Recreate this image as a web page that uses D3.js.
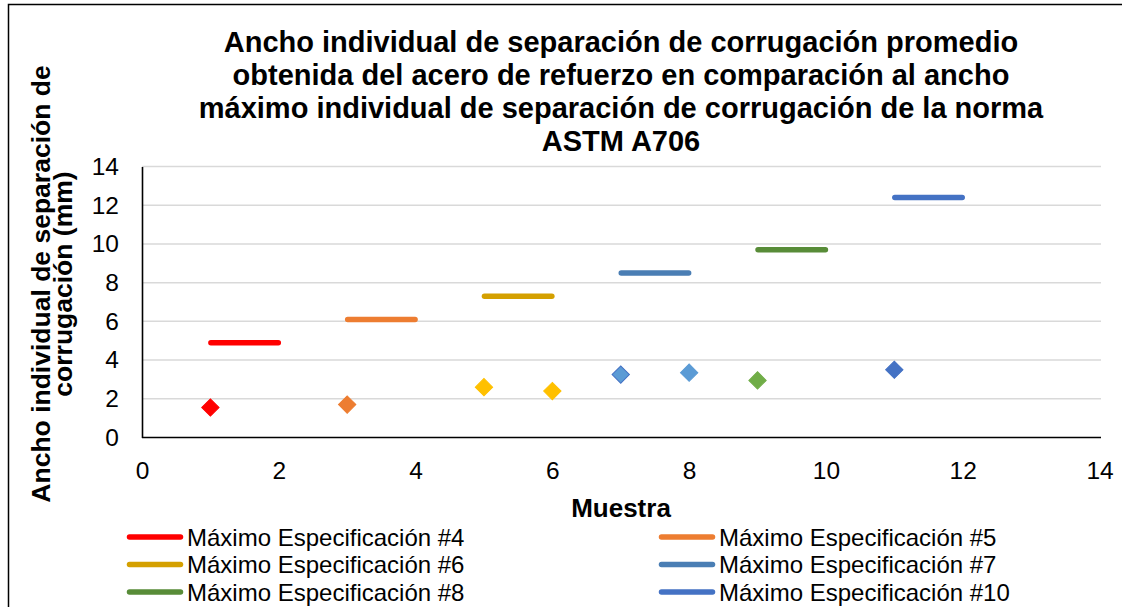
<!DOCTYPE html>
<html>
<head>
<meta charset="utf-8">
<script src="https://cdn.jsdelivr.net/npm/d3@7"></script>
<style>
  html, body { margin: 0; padding: 0; background: #fff; }
  svg { display: block; font-family: "Liberation Sans", Arial, sans-serif; }
</style>
</head>
<body>
<svg id="chart" width="1132" height="607"></svg>
<script>
// ---- data ----
const titleLines = [
  "Ancho individual de separación de corrugación promedio",
  "obtenida del acero de refuerzo en comparación al ancho",
  "máximo individual de separación de corrugación de la norma",
  "ASTM A706"
];
const yTitleLines = ["Ancho individual de separación de", "corrugación (mm)"];
const xTitle = "Muestra";

const lineNames = [
  "Máximo Especificación #4",
  "Máximo Especificación #5",
  "Máximo Especificación #6",
  "Máximo Especificación #7",
  "Máximo Especificación #8",
  "Máximo Especificación #10"
];
const lineStartX = [1, 3, 5, 7, 9, 11];
const lineEndX = [2, 4, 6, 8, 10, 12];
const lineValues = [4.9, 6.1, 7.3, 8.5, 9.7, 12.4];

const pointX = [1, 3, 5, 6, 7, 8, 9, 11];
const pointValues = [1.55, 1.7, 2.6, 2.4, 3.25, 3.35, 2.95, 3.5];

const xTicks = [0, 2, 4, 6, 8, 10, 12, 14];
const yTicks = [0, 2, 4, 6, 8, 10, 12, 14];

// ---- styles ----
const lineColors = ["#FF0000", "#ED7D31", "#D4A000", "#4A7EB4", "#588C38", "#4472C4"];
const pointFill = ["#FF0000", "#ED7D31", "#FFC000", "#FFC000", "#5B9BD5", "#5B9BD5", "#70AD47", "#4472C4"];
const pointStroke = ["#FF0000", "#ED7D31", "#FFC000", "#FFC000", "#4472C4", "#5B9BD5", "#70AD47", "#4472C4"];

const svg = d3.select("#chart");

// frame (top and left edges visible)
svg.append("path")
  .attr("d", "M8.5,607 L8.5,4.5 L1122,4.5")
  .attr("fill", "none").attr("stroke", "#000").attr("stroke-width", 1.5);

const x = d3.scaleLinear().domain([0, 14]).range([142, 1099.5]);
const y = d3.scaleLinear().domain([0, 14]).range([437.5, 166.5]);

// gridlines
svg.append("g")
  .selectAll("line").data(yTicks.filter(d => d > 0)).join("line")
  .attr("x1", x(0)).attr("x2", x(14) + 1.5)
  .attr("y1", d => y(d)).attr("y2", d => y(d))
  .attr("stroke", "#D9D9D9").attr("stroke-width", 1.5);

// axes
const xAxis = svg.append("g").attr("transform", `translate(0,${y(0)})`)
  .call(d3.axisBottom(x).tickValues(xTicks).tickSize(0).tickPadding(24).tickFormat(d3.format("d")));
const yAxis = svg.append("g").attr("transform", `translate(${x(0)},0)`)
  .call(d3.axisLeft(y).tickValues(yTicks).tickSize(0).tickPadding(23).tickFormat(d3.format("d")));
[xAxis, yAxis].forEach(g => {
  g.select(".domain").attr("stroke", "#000").attr("stroke-width", 1.6);
  g.selectAll("text").attr("fill", "#000").style("font-size", "24.5px")
    .style("font-family", '"Liberation Sans", Arial, sans-serif');
});
xAxis.selectAll("text").attr("dy", "0.71em");
xAxis.select(".domain").attr("d", `M${x(0)},0H${x(14) + 1.5}`);

// max-spec segments
svg.append("g").selectAll("line").data(lineValues).join("line")
  .attr("x1", (d, i) => x(lineStartX[i]) + 0.5)
  .attr("x2", (d, i) => x(lineEndX[i]) - 0.5)
  .attr("y1", d => y(d)).attr("y2", d => y(d))
  .attr("stroke", (d, i) => lineColors[i])
  .attr("stroke-width", 5.5).attr("stroke-linecap", "round");

// diamonds
const diamond = d3.symbol().type(d3.symbolSquare).size(150);
svg.append("g").selectAll("path").data(pointValues).join("path")
  .attr("d", diamond)
  .attr("transform", (d, i) => `translate(${x(pointX[i])},${y(d)}) rotate(45)`)
  .attr("fill", (d, i) => pointFill[i])
  .attr("stroke", (d, i) => pointStroke[i])
  .attr("stroke-width", 1);

// title
svg.append("text")
  .attr("text-anchor", "middle").attr("font-weight", "bold")
  .style("font-size", "29px").attr("fill", "#000")
  .selectAll("tspan").data(titleLines).join("tspan")
  .attr("x", 621).attr("y", (d, i) => 51.5 + i * 33.2)
  .text(d => d);

// y title
svg.append("text")
  .attr("transform", "translate(0,284) rotate(-90)")
  .attr("text-anchor", "middle").attr("font-weight", "bold")
  .style("font-size", "26.5px").attr("fill", "#000")
  .selectAll("tspan").data(yTitleLines).join("tspan")
  .attr("x", 0).attr("y", (d, i) => 50 + i * 21.5)
  .text(d => d);

// x title
svg.append("text")
  .attr("x", 621).attr("y", 517)
  .attr("text-anchor", "middle").attr("font-weight", "bold")
  .style("font-size", "26px").attr("fill", "#000")
  .text(xTitle);

// legend
const legendColX = [127, 659];
const legendRowY = [537, 564.5, 592];
const leg = svg.append("g").selectAll("g").data(lineNames).join("g")
  .attr("transform", (d, i) => `translate(${legendColX[i % 2]},${legendRowY[Math.floor(i / 2)]})`);
leg.append("line")
  .attr("x1", 2.5).attr("x2", 53.5).attr("y1", 0).attr("y2", 0)
  .attr("stroke", (d, i) => lineColors[i]).attr("stroke-width", 5.5)
  .attr("stroke-linecap", "round");
leg.append("text")
  .attr("x", 60).attr("y", 8.5)
  .style("font-size", "24px").attr("fill", "#000")
  .text(d => d);
</script>
</body>
</html>
